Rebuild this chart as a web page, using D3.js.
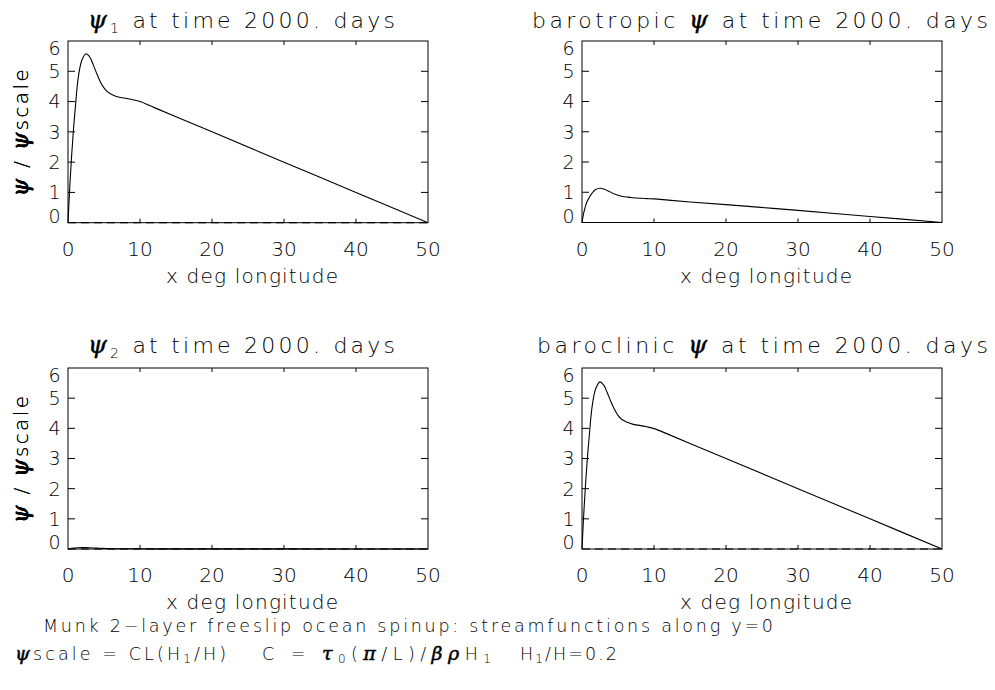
<!DOCTYPE html>
<html lang="en">
<head>
<meta charset="utf-8">
<title>Munk 2-layer spinup</title>
<script src="https://cdn.jsdelivr.net/npm/d3@7"></script>
<style>
    body { margin: 0; background: #fff; }
    svg text {
        font-family: "DejaVu Sans ExtraLight", "DejaVu Sans", sans-serif;
        font-weight: 200;
        fill: #000;
    }
    svg text .greek {
        font-family: "DejaVu Serif", serif;
        font-style: italic;
        font-weight: normal;
        stroke: #000;
        stroke-width: 0.5px;
    }
</style>
</head>
<body>
<div id="chart"></div>
<script>

// sample longitudes (deg)
var xDeg = [0, 0.25, 0.5, 0.75, 1.0, 1.4, 1.9, 2.5, 3.0, 3.5, 4.0, 4.5, 5.0, 5.5, 6.3, 7.0, 8.15, 9.0, 10, 12, 15, 20, 30, 40, 50];

// psi / psiscale for each panel
var psi1       = [0, 1.2, 2.2, 3.05, 3.75, 4.75, 5.35, 5.58, 5.48, 5.22, 4.92, 4.65, 4.45, 4.32, 4.21, 4.15, 4.1, 4.06, 4.0, 3.8, 3.5, 3.0, 2.0, 1.0, 0];
var barotropic = [0, 0.33, 0.55, 0.72, 0.82, 0.97, 1.09, 1.13, 1.11, 1.06, 1.0, 0.94, 0.9, 0.87, 0.84, 0.82, 0.8, 0.79, 0.78, 0.74, 0.68, 0.59, 0.4, 0.2, 0];
var psi2       = [0, 0.01, 0.02, 0.03, 0.035, 0.04, 0.045, 0.045, 0.04, 0.035, 0.03, 0.025, 0.02, 0.015, 0.01, 0.01, 0.008, 0.007, 0.006, 0.005, 0.005, 0.004, 0.003, 0.002, 0];
var baroclinic = [0, 1.19, 2.18, 3.02, 3.72, 4.71, 5.31, 5.54, 5.44, 5.19, 4.89, 4.63, 4.43, 4.3, 4.2, 4.14, 4.09, 4.05, 3.99, 3.8, 3.5, 3.0, 2.0, 1.0, 0];

var xTicks = [0, 10, 20, 30, 40, 50];
var yTicks = [0, 1, 2, 3, 4, 5, 6];

var width = 995, height = 690;

var svg = d3.select("#chart").append("svg")
    .attr("width", width)
    .attr("height", height);

// panels, title given as pieces: t = text, g = greek, sub = subscript
var panels = [
    { values: psi1, left: 68, top: 41, bottom: 222.7,
      title: [["g", "ψ"], ["sub", "1"], ["t", " at time 2000. days"]], tx: 88, tw: 307, ty: 28.3 },
    { values: barotropic, left: 582, top: 41, bottom: 222.5,
      title: [["t", "barotropic "], ["g", "ψ"], ["t", " at time 2000. days"]], tx: 532, tw: 456, ty: 28.3 },
    { values: psi2, left: 68, top: 368, bottom: 549,
      title: [["g", "ψ"], ["sub", "2"], ["t", " at time 2000. days"]], tx: 88, tw: 307, ty: 353.3 },
    { values: baroclinic, left: 582, top: 368, bottom: 549,
      title: [["t", "baroclinic "], ["g", "ψ"], ["t", " at time 2000. days"]], tx: 537, tw: 451, ty: 353.3 }
];

function addPieces(t, parts, gSize, subSize, subDy) {
    var low = false;
    parts.forEach(function(piece) {
        var s = t.append("tspan").text(piece[1]);
        if (piece[0] == "g") s.attr("class", "greek").style("font-size", gSize);
        if (piece[0] == "sub") { s.style("font-size", subSize).attr("dy", subDy); low = true; }
        else if (low) { s.attr("dy", -subDy); low = false; }
    });
}

panels.forEach(function(p) {
    var x = d3.scaleLinear().domain([0, 50]).range([p.left, p.left + 360]);
    var y = d3.scaleLinear().domain([0, 6]).range([p.bottom, p.top]);
    var g = svg.append("g");

    // zero line, dashed
    g.append("line")
        .attr("x1", x(0)).attr("x2", x(50))
        .attr("y1", y(0)).attr("y2", y(0))
        .attr("stroke", "#000").attr("stroke-width", 1.2)
        .attr("stroke-dasharray", "8,5");

    // frame
    g.append("rect")
        .attr("x", x(0)).attr("y", y(6))
        .attr("width", x(50) - x(0)).attr("height", y(0) - y(6))
        .attr("fill", "none").attr("stroke", "#000").attr("stroke-width", 1);

    // inward ticks on all four sides
    xTicks.slice(1, -1).forEach(function(t) {
        g.append("line").attr("x1", x(t)).attr("x2", x(t))
            .attr("y1", y(0)).attr("y2", y(0) - 4).attr("stroke", "#000");
        g.append("line").attr("x1", x(t)).attr("x2", x(t))
            .attr("y1", y(6)).attr("y2", y(6) + 4).attr("stroke", "#000");
    });
    yTicks.slice(1, -1).forEach(function(t) {
        g.append("line").attr("x1", x(0)).attr("x2", x(0) + 7)
            .attr("y1", y(t)).attr("y2", y(t)).attr("stroke", "#000");
        g.append("line").attr("x1", x(50)).attr("x2", x(50) - 7)
            .attr("y1", y(t)).attr("y2", y(t)).attr("stroke", "#000");
    });

    // tick labels
    g.selectAll(".xl").data(xTicks).enter().append("text")
        .attr("x", function(d) { return x(d); })
        .attr("y", y(0) + 33)
        .attr("text-anchor", "middle")
        .style("font-size", "20px")
        .text(function(d) { return d; });

    g.selectAll(".yl").data(yTicks).enter().append("text")
        .attr("x", x(0) - 7.5)
        .attr("y", function(d) {
            // end labels are kept inside the frame height
            return Math.max(p.top + 7, Math.min(p.bottom - 6.5, y(d)));
        })
        .attr("dy", "0.36em")
        .attr("text-anchor", "end")
        .style("font-size", "19px")
        .text(function(d) { return d; });

    // curve
    var line = d3.line()
        .x(function(d, i) { return x(xDeg[i]); })
        .y(function(d) { return y(d); })
        .curve(d3.curveCatmullRom.alpha(0.5));
    g.append("path")
        .datum(p.values)
        .attr("d", line)
        .attr("fill", "none")
        .attr("stroke", "#000")
        .attr("stroke-width", 1.1);

    // title
    var tt = g.append("text")
        .attr("x", p.tx).attr("y", p.ty)
        .attr("textLength", p.tw).attr("lengthAdjust", "spacing")
        .style("font-size", "22px");
    addPieces(tt, p.title, "24px", "14px", 5);

    // x axis title
    g.append("text")
        .attr("x", x(25) + 4).attr("y", y(0) + 60)
        .attr("text-anchor", "middle")
        .attr("textLength", 172).attr("lengthAdjust", "spacing")
        .style("font-size", "20px")
        .text("x deg longitude");

    // y axis title
    var yt = g.append("text")
        .attr("transform", "translate(28," + ((p.top + p.bottom) / 2 + 1) + ") rotate(-90)")
        .attr("text-anchor", "middle")
        .attr("textLength", 127).attr("lengthAdjust", "spacing")
        .style("font-size", "20px");
    addPieces(yt, [["g", "ψ"], ["t", " / "], ["g", "ψ"], ["t", "scale"]], "22px", "14px", 0);
});

// caption lines
svg.append("text")
    .attr("x", 43).attr("y", 632)
    .attr("textLength", 730).attr("lengthAdjust", "spacing")
    .style("font-size", "17.5px")
    .text("Munk 2−layer freeslip ocean spinup: streamfunctions along y=0");

var cap = [
    { x: 15, w: 211, parts: [["g", "ψ"], ["t", "scale = CL(H"], ["sub", "1"], ["t", "/H)"]] },
    { x: 262, w: 229, parts: [["t", "C = "], ["g", "τ"], ["sub", "0"], ["t", "("], ["g", "π"], ["t", "/L)/"], ["g", "βρ"], ["t", "H"], ["sub", "1"]] },
    { x: 520, w: 97, parts: [["t", "H"], ["sub", "1"], ["t", "/H=0.2"]] }
];
cap.forEach(function(c) {
    var t = svg.append("text")
        .attr("x", c.x).attr("y", 660)
        .attr("textLength", c.w).attr("lengthAdjust", "spacing")
        .style("font-size", "17.5px");
    addPieces(t, c.parts, "19px", "12px", 3);
});

</script>
</body>
</html>
